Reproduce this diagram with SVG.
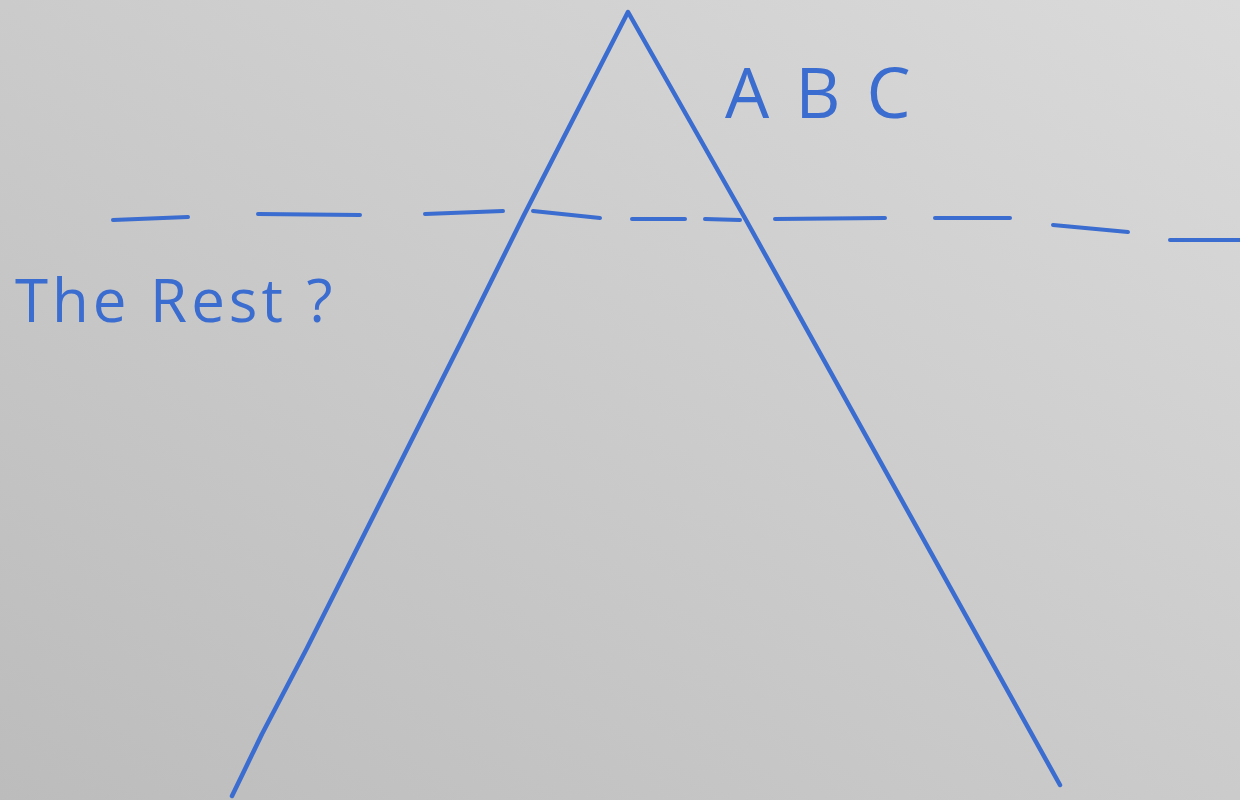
<svg xmlns="http://www.w3.org/2000/svg" width="1240" height="800" viewBox="0 0 1240 800">
<defs>
<linearGradient id="bg" x1="1" y1="0" x2="0" y2="1">
<stop offset="0" stop-color="#dadada"/>
<stop offset="0.5" stop-color="#cbcbcb"/>
<stop offset="1" stop-color="#bcbcbc"/>
</linearGradient>
<style>
.pen{fill:none;stroke:#3b6ccf;stroke-width:4.5;stroke-linecap:round;stroke-linejoin:round}
.dash{fill:none;stroke:#3b6ccf;stroke-width:4;stroke-linecap:round}
.lbl{fill:#3b6ccf;font-family:"Open Sans","Liberation Sans",sans-serif;font-weight:400}
</style>
</defs>
<rect x="0" y="0" width="1240" height="800" fill="url(#bg)"/>
<g id="triangle">
<path class="pen" d="M232,796 L262,734 L306,650 L462,340 L524,215 L628,12 L746,220 L1060,785"/>
</g>
<g id="connectors">
<path class="dash" d="M113,220 L188,217"/>
<path class="dash" d="M258,214 L360,215"/>
<path class="dash" d="M425,214 L503,211"/>
<path class="dash" d="M533,211 L600,218"/>
<path class="dash" d="M632,219 L685,219"/>
<path class="dash" d="M705,219 L740,220"/>
<path class="dash" d="M775,219 L885,218"/>
<path class="dash" d="M935,218 L1010,218"/>
<path class="dash" d="M1053,225 L1128,232"/>
<path class="dash" d="M1170,240 L1240,240"/>
</g>
<g id="abc">
<text class="lbl" x="725" y="118" font-size="70" letter-spacing="26">ABC</text>
</g>
<g id="the-rest">
<text class="lbl" x="15" y="322" font-size="60" letter-spacing="4">The Rest ?</text>
</g>
</svg>
